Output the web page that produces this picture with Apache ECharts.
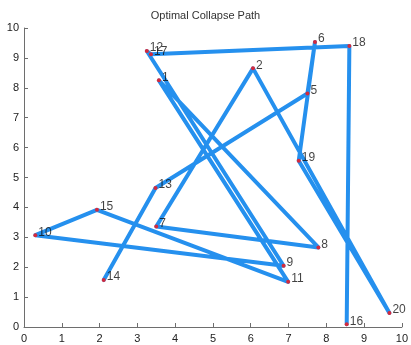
<!DOCTYPE html>
<html>
<head>
<meta charset="utf-8">
<script src="https://cdn.jsdelivr.net/npm/echarts@6/dist/echarts.min.js"></script>
<style>
  html, body { margin: 0; padding: 0; background: #fff; }
  #chart { width: 411px; height: 345px; }
</style>
</head>
<body>
<div id="chart"></div>
<script>
// Node labels with their coordinates
const nodeIds = [1, 2, 5, 6, 7, 8, 9, 10, 11, 12, 13, 14, 15, 16, 17, 18, 19, 20];
const nodeX = [3.57, 6.06, 7.50, 7.70, 3.50, 7.79, 6.87, 0.30, 6.99, 3.25, 3.48, 2.11, 1.93, 8.54, 3.36, 8.61, 7.27, 9.67];
const nodeY = [8.25, 8.65, 7.81, 9.53, 3.36, 2.66, 2.05, 3.07, 1.51, 9.23, 4.65, 1.57, 3.92, 0.09, 9.12, 9.40, 5.56, 0.47];

// Visiting order of the collapse path
const pathOrder = [16, 18, 17, 12, 9, 10, 15, 11, 1, 8, 7, 2, 20, 19, 6, 5, 13, 14];

// Axis ticks
const axisTicks = [0, 1, 2, 3, 4, 5, 6, 7, 8, 9, 10];

const coordOf = id => {
  const i = nodeIds.indexOf(id);
  return [nodeX[i], nodeY[i]];
};

const pathData = pathOrder.map(coordOf);
const nodeData = nodeIds.map((id, i) => ({ name: String(id), value: [nodeX[i], nodeY[i]] }));

const FONT = 'Liberation Sans, Arial, sans-serif';

function makeAxis(labelMargin) {
  return {
    type: 'value',
    min: axisTicks[0],
    max: axisTicks[axisTicks.length - 1],
    interval: 1,
    axisLine: { show: true, onZero: false, lineStyle: { color: '#6e6e6e', width: 1 } },
    axisTick: { show: true, inside: true, length: 4, lineStyle: { color: '#6e6e6e' } },
    splitLine: { show: false },
    axisLabel: { color: '#222', fontSize: 11, fontFamily: FONT, margin: labelMargin }
  };
}

const chart = echarts.init(document.getElementById('chart'), null, { renderer: 'canvas' });
chart.setOption({
  animation: false,
  backgroundColor: '#ffffff',
  title: {
    text: 'Optimal Collapse Path',
    left: 'center',
    top: 5,
    textStyle: { fontSize: 11, fontWeight: 'normal', color: '#333', fontFamily: FONT }
  },
  grid: { left: 24, right: 5, top: 28, bottom: 18, containLabel: false },
  xAxis: makeAxis(6),
  yAxis: makeAxis(5),
  series: [
    {
      type: 'line',
      data: pathData,
      showSymbol: false,
      symbol: 'none',
      lineStyle: { color: '#2590ee', width: 4, join: 'round', cap: 'round' },
      z: 2
    },
    {
      type: 'scatter',
      data: nodeData,
      symbol: 'circle',
      symbolSize: 4,
      itemStyle: { color: '#ff1010' },
      label: {
        show: true,
        position: 'right',
        distance: 1,
        offset: [0, -3],
        formatter: p => p.name,
        color: '#111',
        fontSize: 12,
        fontFamily: FONT
      },
      z: 3
    }
  ]
});
</script>
</body>
</html>
